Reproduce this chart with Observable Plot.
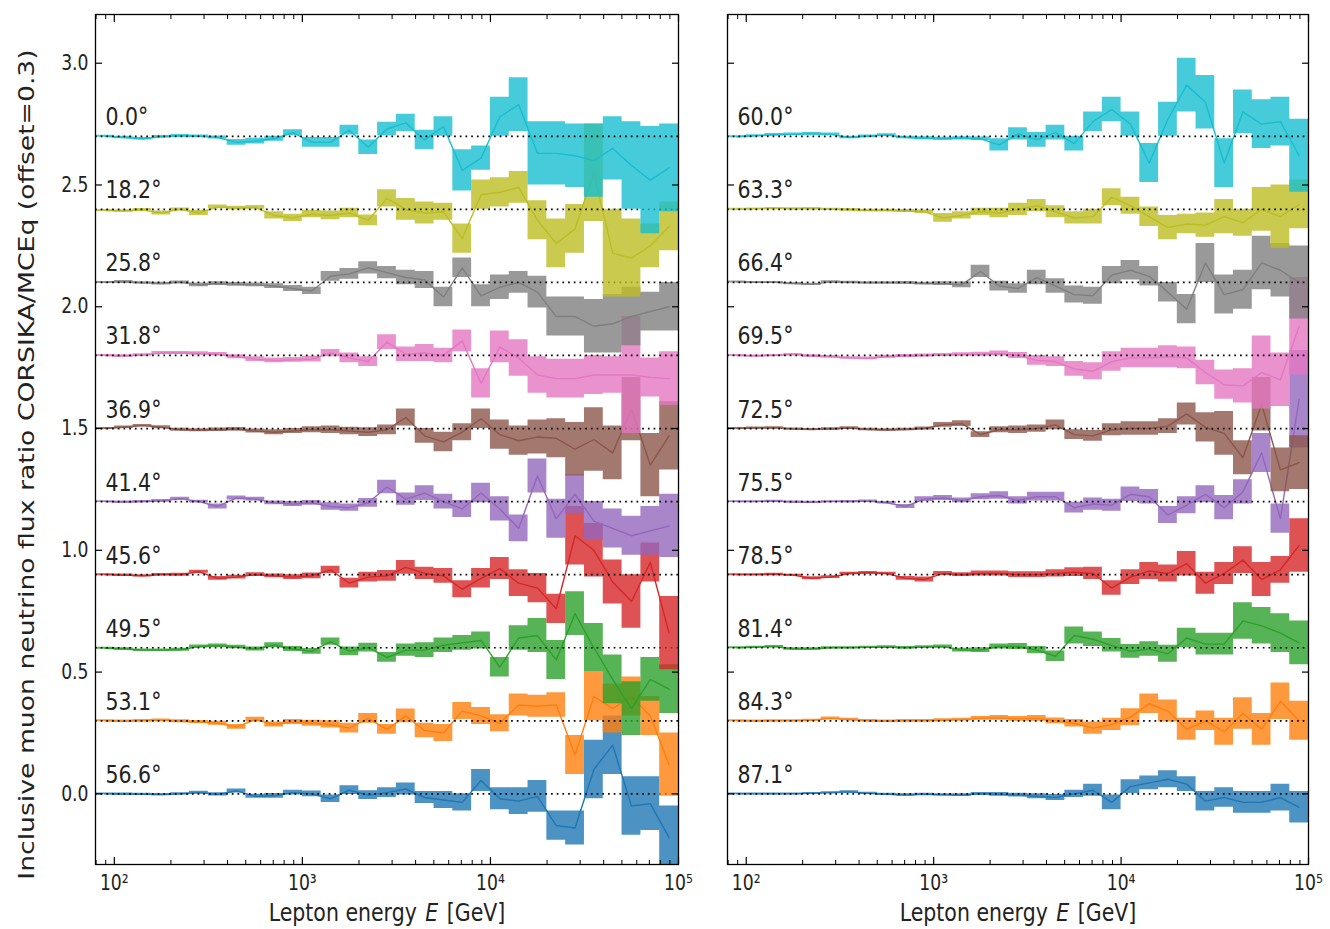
<!DOCTYPE html>
<html><head><meta charset="utf-8">
<script src="https://cdn.jsdelivr.net/npm/d3@7"></script>
<script src="https://cdn.jsdelivr.net/npm/@observablehq/plot@0.6"></script>
<style>
body{margin:0;background:#fff;}
#wrap{display:flex;width:1330px;height:929px;}
</style></head><body><div id="wrap"></div>
<script>
// ---------- axes / bins ----------
const logMin = 1.9, logStep = 0.1, nBins = 31;
const binEdges = d3.range(nBins + 1).map(k => 10 ** (logMin + logStep * k));
const binCenters = d3.range(nBins).map(k => 10 ** (logMin + logStep * (k + 0.5)));
const xMajorTicks = [1e2, 1e3, 1e4, 1e5];
const xMinorTicks = [80, 90, 200, 300, 400, 500, 600, 700, 800, 900, 2000, 3000, 4000, 5000, 6000, 7000, 8000, 9000, 2e4, 3e4, 4e4, 5e4, 6e4, 7e4, 8e4, 9e4];
const yTicks = [0, 0.5, 1.0, 1.5, 2.0, 2.5, 3.0];
const offsetStep = 0.3;
const colors = ["#1f77b4", "#ff7f0e", "#2ca02c", "#d62728", "#9467bd", "#8c564b", "#e377c2", "#7f7f7f", "#bcbd22", "#17becf"];
const leftAngles = ["56.6°", "53.1°", "49.5°", "45.6°", "41.4°", "36.9°", "31.8°", "25.8°", "18.2°", "0.0°"];
const rightAngles = ["87.1°", "84.3°", "81.4°", "78.5°", "75.5°", "72.5°", "69.5°", "66.4°", "63.3°", "60.0°"];
const yLabel = "Inclusive muon neutrino flux ratio CORSIKA/MCEq (offset=0.3)";
const xLabel = "Lepton energy E [GeV]";
const xLabelParts = ["Lepton energy", "E", "[GeV]"];

// ---------- left panel: ratio (c) and half error band (e) per bin ----------
const L566c = [1.000,0.999,0.998,0.997,1.000,1.005,0.998,1.012,0.990,0.992,1.005,1.000,0.980,1.015,0.995,1.005,1.020,0.985,0.975,0.965,1.055,0.980,0.970,0.990,0.870,0.860,1.100,1.200,0.950,0.960,0.820];
const L566e = [0.004,0.005,0.005,0.005,0.005,0.006,0.007,0.008,0.008,0.010,0.010,0.012,0.015,0.018,0.018,0.020,0.025,0.025,0.035,0.035,0.045,0.045,0.055,0.065,0.060,0.070,0.120,0.120,0.120,0.110,0.130];
const L531c = [1.000,0.998,1.000,1.002,0.998,0.995,0.990,0.975,1.005,0.985,0.995,0.990,0.985,0.970,1.010,0.965,1.020,0.960,0.950,1.040,1.020,0.990,1.065,1.060,1.065,0.860,1.100,1.050,1.100,1.020,0.820];
const L531e = [0.004,0.005,0.005,0.005,0.006,0.006,0.008,0.010,0.010,0.010,0.010,0.012,0.015,0.020,0.020,0.020,0.028,0.030,0.035,0.035,0.035,0.035,0.045,0.045,0.050,0.080,0.100,0.100,0.080,0.080,0.130];
const L495c = [0.998,0.995,0.990,0.990,0.992,1.005,1.008,1.003,0.995,1.010,0.995,0.985,1.025,0.985,1.000,0.960,0.990,0.990,1.010,1.020,1.030,0.920,1.040,1.050,0.950,1.140,1.000,0.870,0.750,0.870,0.830];
const L495e = [0.004,0.005,0.005,0.005,0.006,0.006,0.007,0.007,0.008,0.010,0.010,0.012,0.015,0.018,0.018,0.020,0.025,0.030,0.030,0.030,0.035,0.040,0.050,0.070,0.080,0.090,0.100,0.100,0.110,0.090,0.100];
const L456c = [1.000,0.998,0.995,1.000,1.000,1.012,0.985,0.990,1.000,0.995,0.990,0.995,1.020,0.965,0.990,0.995,1.030,1.005,0.995,0.940,0.985,1.025,0.965,0.945,0.860,1.160,1.100,0.970,0.890,1.050,0.760];
const L456e = [0.004,0.005,0.005,0.005,0.006,0.006,0.008,0.008,0.008,0.008,0.010,0.012,0.015,0.020,0.020,0.022,0.028,0.025,0.030,0.035,0.040,0.045,0.055,0.060,0.060,0.120,0.110,0.090,0.110,0.080,0.150];
const L414c = [1.000,0.998,1.000,1.003,1.012,1.000,0.980,1.015,1.010,0.995,0.990,0.995,0.980,0.975,0.995,1.060,1.010,1.035,1.000,0.970,1.035,0.970,0.890,1.105,0.930,1.030,0.920,0.890,0.860,0.880,0.900];
const L414e = [0.004,0.005,0.005,0.006,0.006,0.006,0.010,0.008,0.008,0.008,0.010,0.010,0.015,0.015,0.018,0.028,0.025,0.030,0.030,0.035,0.040,0.050,0.055,0.070,0.080,0.080,0.080,0.080,0.080,0.100,0.130];
const L369c = [1.000,1.005,1.012,1.005,0.995,0.993,0.995,0.997,0.990,0.985,0.990,0.995,0.995,0.990,0.985,0.995,1.045,0.970,0.945,0.985,1.040,0.975,0.950,0.965,0.960,0.915,0.955,0.900,1.080,0.850,0.970];
const L369e = [0.004,0.005,0.005,0.006,0.006,0.006,0.007,0.007,0.008,0.010,0.010,0.012,0.015,0.015,0.018,0.020,0.035,0.030,0.040,0.035,0.040,0.060,0.060,0.070,0.080,0.110,0.130,0.110,0.130,0.130,0.140];
const L318c = [1.000,0.998,1.002,1.010,1.010,1.008,1.005,0.995,0.985,0.980,0.982,0.985,1.010,0.990,0.975,1.055,1.005,1.010,1.000,1.060,0.885,1.035,0.990,0.920,0.905,0.905,0.920,0.920,0.920,0.910,0.905];
const L318e = [0.004,0.005,0.005,0.006,0.006,0.007,0.007,0.008,0.010,0.010,0.010,0.012,0.015,0.020,0.020,0.030,0.030,0.035,0.030,0.045,0.060,0.065,0.075,0.075,0.080,0.080,0.080,0.075,0.240,0.080,0.110];
const L258c = [1.000,1.003,0.998,0.995,1.000,0.990,0.995,0.992,0.990,0.985,0.975,0.965,1.025,1.035,1.060,1.040,1.020,1.010,0.940,1.060,0.945,0.980,1.000,0.960,0.860,0.860,0.820,0.830,0.860,0.880,0.900];
const L258e = [0.004,0.005,0.005,0.006,0.006,0.008,0.008,0.008,0.008,0.010,0.012,0.015,0.020,0.022,0.025,0.025,0.030,0.035,0.040,0.040,0.045,0.050,0.045,0.065,0.080,0.080,0.110,0.120,0.120,0.080,0.100];
const L182c = [0.995,0.993,0.998,0.985,1.000,0.985,1.010,1.005,1.008,0.975,0.965,0.980,0.975,0.985,0.955,1.045,1.000,0.985,0.990,0.880,1.060,1.070,1.090,0.955,0.860,0.920,1.150,0.820,0.800,0.850,0.930];
const L182e = [0.004,0.005,0.005,0.008,0.006,0.010,0.008,0.008,0.008,0.015,0.015,0.015,0.018,0.020,0.022,0.035,0.045,0.045,0.035,0.060,0.060,0.060,0.065,0.080,0.100,0.100,0.200,0.180,0.160,0.090,0.100];
const L000c = [1.000,0.995,0.990,0.998,1.002,1.000,0.995,0.975,0.980,0.990,1.015,0.975,0.975,1.025,0.955,1.030,1.055,0.985,1.040,0.860,0.910,1.080,1.130,0.930,0.930,0.920,0.900,0.950,0.880,0.820,0.870];
const L000e = [0.004,0.005,0.005,0.005,0.005,0.005,0.006,0.012,0.012,0.010,0.012,0.020,0.020,0.020,0.030,0.028,0.035,0.040,0.040,0.085,0.050,0.080,0.110,0.130,0.130,0.130,0.150,0.130,0.180,0.220,0.180];

// ---------- right panel ----------
const R871c = [1.000,1.000,1.000,1.000,1.002,1.005,1.008,1.002,0.998,0.995,0.998,0.996,0.995,1.000,0.998,0.995,0.990,0.985,1.000,1.015,0.965,1.030,1.045,1.060,1.040,0.970,0.985,0.965,0.965,0.985,0.945];
const R871e = [0.004,0.004,0.004,0.004,0.004,0.004,0.005,0.005,0.005,0.005,0.005,0.005,0.006,0.006,0.008,0.008,0.010,0.012,0.015,0.025,0.030,0.028,0.028,0.035,0.030,0.040,0.040,0.045,0.045,0.055,0.065];
const R843c = [1.000,0.999,1.000,1.000,1.002,1.010,1.005,1.000,0.998,1.000,1.000,1.002,1.005,1.010,1.012,1.008,1.010,1.000,0.990,0.970,0.985,1.015,1.070,1.040,0.965,1.000,0.955,1.030,0.965,1.080,1.000];
const R843e = [0.004,0.004,0.004,0.004,0.004,0.006,0.005,0.005,0.005,0.005,0.005,0.006,0.006,0.008,0.010,0.010,0.012,0.012,0.015,0.025,0.025,0.035,0.040,0.045,0.045,0.040,0.055,0.065,0.065,0.075,0.080];
const R814c = [1.000,1.002,1.005,0.995,0.995,1.000,1.000,1.002,1.003,1.000,1.003,1.005,0.990,0.990,1.005,1.005,0.990,0.965,1.050,1.035,1.010,0.985,0.995,0.975,1.040,1.015,1.015,1.110,1.090,1.060,1.020];
const R814e = [0.004,0.004,0.004,0.005,0.005,0.004,0.004,0.004,0.005,0.005,0.005,0.006,0.008,0.010,0.010,0.012,0.015,0.022,0.035,0.030,0.028,0.028,0.030,0.035,0.040,0.045,0.045,0.075,0.075,0.080,0.090];
const R785c = [1.000,1.000,1.002,0.998,0.985,0.990,1.005,1.008,1.005,0.985,0.980,1.005,1.000,1.005,1.005,1.000,1.000,1.005,1.010,1.005,0.945,0.990,1.015,1.005,1.045,0.965,1.005,1.060,0.980,1.020,1.120];
const R785e = [0.004,0.004,0.004,0.004,0.006,0.006,0.005,0.005,0.005,0.008,0.010,0.008,0.008,0.010,0.010,0.012,0.012,0.015,0.018,0.025,0.030,0.030,0.035,0.035,0.050,0.045,0.045,0.055,0.070,0.055,0.110];
const R755c = [1.000,1.000,1.002,0.998,0.997,1.000,1.000,1.002,0.995,0.980,1.010,1.015,1.005,1.020,1.025,1.005,1.020,1.020,0.975,0.990,0.985,1.030,1.020,0.945,0.985,1.030,0.975,1.040,1.200,0.930,1.420];
const R755e = [0.004,0.004,0.004,0.004,0.004,0.004,0.005,0.005,0.005,0.008,0.010,0.010,0.010,0.012,0.015,0.015,0.018,0.018,0.022,0.025,0.025,0.030,0.030,0.035,0.035,0.035,0.050,0.050,0.080,0.060,0.200];
const R725c = [1.000,1.002,1.003,0.998,0.996,0.998,1.002,0.996,0.994,0.996,1.000,1.015,1.020,0.975,0.995,0.995,1.000,1.015,0.975,0.970,0.995,1.000,1.000,1.010,1.060,1.005,0.980,0.880,1.100,0.830,0.860];
const R725e = [0.004,0.004,0.004,0.004,0.004,0.005,0.005,0.005,0.005,0.005,0.006,0.010,0.012,0.012,0.012,0.015,0.015,0.020,0.020,0.022,0.025,0.028,0.028,0.030,0.045,0.060,0.090,0.070,0.110,0.090,0.110];
const R695c = [1.000,0.998,1.000,1.004,0.998,0.995,0.990,0.988,0.995,0.998,1.000,1.002,1.004,1.005,1.008,1.000,0.980,0.975,0.945,0.935,0.975,0.990,0.990,0.995,0.990,0.930,0.880,0.875,0.930,0.900,1.120];
const R695e = [0.004,0.004,0.004,0.004,0.005,0.005,0.005,0.006,0.006,0.006,0.006,0.006,0.007,0.008,0.010,0.012,0.020,0.020,0.030,0.035,0.040,0.040,0.040,0.045,0.045,0.050,0.060,0.070,0.150,0.110,0.200];
const R664c = [1.002,1.000,1.000,0.995,0.992,1.002,1.000,0.998,0.998,0.998,0.995,0.995,0.990,1.045,0.985,0.975,1.020,0.985,0.950,0.945,1.030,1.050,1.025,0.960,0.890,1.080,0.950,0.970,1.080,1.050,1.000];
const R664e = [0.004,0.004,0.004,0.005,0.005,0.005,0.005,0.005,0.005,0.006,0.006,0.008,0.012,0.025,0.020,0.020,0.030,0.030,0.035,0.035,0.035,0.040,0.040,0.040,0.060,0.080,0.080,0.080,0.110,0.110,0.150];
const R633c = [1.000,1.002,1.004,1.002,1.003,1.000,0.998,0.995,0.995,0.993,0.990,0.965,0.975,0.990,0.985,1.000,1.015,0.990,0.965,0.970,1.050,1.015,0.970,0.925,0.940,0.935,0.970,0.945,1.000,0.970,1.020];
const R633e = [0.004,0.004,0.004,0.005,0.005,0.005,0.005,0.005,0.005,0.006,0.007,0.018,0.015,0.015,0.020,0.025,0.025,0.025,0.025,0.030,0.035,0.035,0.040,0.050,0.040,0.050,0.070,0.055,0.090,0.130,0.100];
const R600c = [0.998,1.002,1.006,1.008,1.010,1.008,0.995,1.000,1.005,0.995,0.992,0.990,0.992,0.990,0.965,1.010,0.985,1.015,0.970,1.060,1.110,1.050,0.890,1.070,1.210,1.140,0.890,1.100,1.050,1.060,0.920];
const R600e = [0.004,0.004,0.005,0.005,0.005,0.005,0.005,0.005,0.005,0.005,0.006,0.006,0.006,0.007,0.025,0.025,0.030,0.030,0.030,0.040,0.050,0.050,0.080,0.070,0.110,0.110,0.100,0.090,0.100,0.100,0.150];

const leftC = [L566c, L531c, L495c, L456c, L414c, L369c, L318c, L258c, L182c, L000c];
const leftE = [L566e, L531e, L495e, L456e, L414e, L369e, L318e, L258e, L182e, L000e];
const rightC = [R871c, R843c, R814c, R785c, R755c, R725c, R695c, R664c, R633c, R600c];
const rightE = [R871e, R843e, R814e, R785e, R755e, R725e, R695e, R664e, R633e, R600e];

const FONT = "DejaVu Sans";
const FS = 20.5;        // label font size (horizontal metrics)
const FS_TICK = 17.2;   // tick label font size (horizontal metrics)
const VSTRETCH = 1.22;  // glyphs are stretched vertically in the reference
const YSTRETCH = 1.3;   // stretch of the rotated y label along its length
const TXT = "#222";
const sup = {2: "²", 3: "³", 4: "⁴", 5: "⁵"};
const fmtPow = d => "10" + sup[Math.round(Math.log10(d))];

function panel(centers, errors, angles, opts) {
  const marks = [];
  centers.forEach((c, i) => {
    const off = i * offsetStep;
    const col = colors[i];
    const band = binEdges.map((x, k) => {
      const j = Math.min(k, nBins - 1);
      return {x, lo: c[j] - 1 + off - errors[i][j], hi: c[j] - 1 + off + errors[i][j]};
    });
    const line = binCenters.map((x, k) => ({x, y: c[k] - 1 + off}));
    marks.push(Plot.areaY(band, {x: "x", y1: "lo", y2: "hi", curve: "step-after", fill: col, fillOpacity: 0.8, clip: true}));
    marks.push(Plot.line(line, {x: "x", y: "y", stroke: col, strokeWidth: 1.4, clip: true}));
    marks.push(Plot.ruleY([off], {stroke: "#000", strokeWidth: 1.7, strokeDasharray: "1.7,4"}));
  });
  marks.push(Plot.text(angles.map((t, i) => ({t, y: i * offsetStep})), {
    text: "t", y: "y", frameAnchor: "left", dx: 10, dy: -19, textAnchor: "start", fontSize: FS, fill: TXT
  }));
  marks.push(Plot.frame({stroke: "#000", strokeWidth: 1.3}));
  // inward ticks on all four sides
  marks.push(Plot.axisX(xMajorTicks, {anchor: "bottom", label: null, tickSize: -7, tickFormat: () => "", strokeWidth: 1.2}));
  marks.push(Plot.axisX(xMajorTicks, {anchor: "top", label: null, tickSize: -7, tickFormat: () => "", strokeWidth: 1.2}));
  marks.push(Plot.axisX(xMinorTicks, {anchor: "bottom", label: null, tickSize: -4, tickFormat: () => "", strokeWidth: 1}));
  marks.push(Plot.axisX(xMinorTicks, {anchor: "top", label: null, tickSize: -4, tickFormat: () => "", strokeWidth: 1}));
  marks.push(Plot.axisY(yTicks, {anchor: "left", label: null, tickSize: -7, tickFormat: () => "", strokeWidth: 1.2}));
  marks.push(Plot.axisY(yTicks, {anchor: "right", label: null, tickSize: -7, tickFormat: () => "", strokeWidth: 1.2}));
  // tick labels
  marks.push(Plot.axisX(xMajorTicks, {anchor: "bottom", label: null, tickSize: 0, tickPadding: 11, tickFormat: fmtPow, fontSize: FS_TICK, fill: TXT}));
  if (opts.yLabels) {
    marks.push(Plot.axisY(yTicks, {anchor: "left", label: null, tickSize: 0, tickPadding: 7, tickFormat: d3.format(".1f"), fontSize: FS_TICK, fill: TXT}));
    marks.push(Plot.text([yLabel], {frameAnchor: "left", rotate: -90, textAnchor: "middle", dx: -68, dy: 25, fontSize: FS, fill: TXT}));
  }
  marks.push(Plot.text([xLabel], {frameAnchor: "bottom", dy: 56, fontSize: FS, fill: TXT}));
  return Plot.plot({
    width: opts.width, height: 929,
    marginLeft: opts.ml, marginRight: opts.mr, marginTop: 14, marginBottom: 65,
    style: {fontFamily: FONT, background: "#fff", overflow: "visible"},
    x: {type: "log", domain: [10 ** logMin, 1e5], axis: null},
    y: {domain: [-0.29, 3.2], axis: null},
    marks
  });
}

// x label: split into three text pieces so that only the symbol E is italic
function splitXLabel(svg) {
  const space = 0.318 * FS;
  const gaps = [space + 2, space + 2];
  d3.select(svg).selectAll("text").filter(function () { return this.textContent === xLabel; }).each(function () {
    const base = this;
    const pieces = xLabelParts.map((s, i) => {
      const c = base.cloneNode(false);
      c.textContent = s;
      if (i === 1) c.setAttribute("font-style", "italic");
      c.setAttribute("text-anchor", "start");
      base.parentNode.appendChild(c);
      return c;
    });
    const widths = pieces.map(c => c.getComputedTextLength());
    const total = d3.sum(widths) + d3.sum(gaps);
    let x0 = -total / 2;
    pieces.forEach((c, i) => {
      c.setAttribute("dx", x0);
      x0 += widths[i] + (gaps[i] || 0);
    });
    base.remove();
  });
}

// emulate the reference's non-uniform aspect: glyphs stretched vertically
function reshapeText(svg) {
  d3.select(svg).selectAll("text").each(function () {
    if (this.textContent === yLabel) {
      const L = this.getComputedTextLength();
      this.setAttribute("textLength", L * YSTRETCH);
      this.setAttribute("lengthAdjust", "spacingAndGlyphs");
      return;
    }
    const t = this.getAttribute("transform");
    if (t) {
      if (/rotate/.test(t)) return;
      this.setAttribute("transform", `${t} scale(1,${VSTRETCH})`);
    } else {
      const y = parseFloat(this.getAttribute("y")) || 0;
      this.setAttribute("transform", `translate(0,${y}) scale(1,${VSTRETCH}) translate(0,${-y})`);
    }
  });
}

const wrap = document.getElementById("wrap");
const s1 = panel(leftC, leftE, leftAngles, {width: 703, ml: 95, mr: 25, yLabels: true});
const s2 = panel(rightC, rightE, rightAngles, {width: 627, ml: 24, mr: 22, yLabels: false});
wrap.appendChild(s1);
wrap.appendChild(s2);
[s1, s2].forEach(s => { splitXLabel(s); reshapeText(s); });
</script></body></html>
